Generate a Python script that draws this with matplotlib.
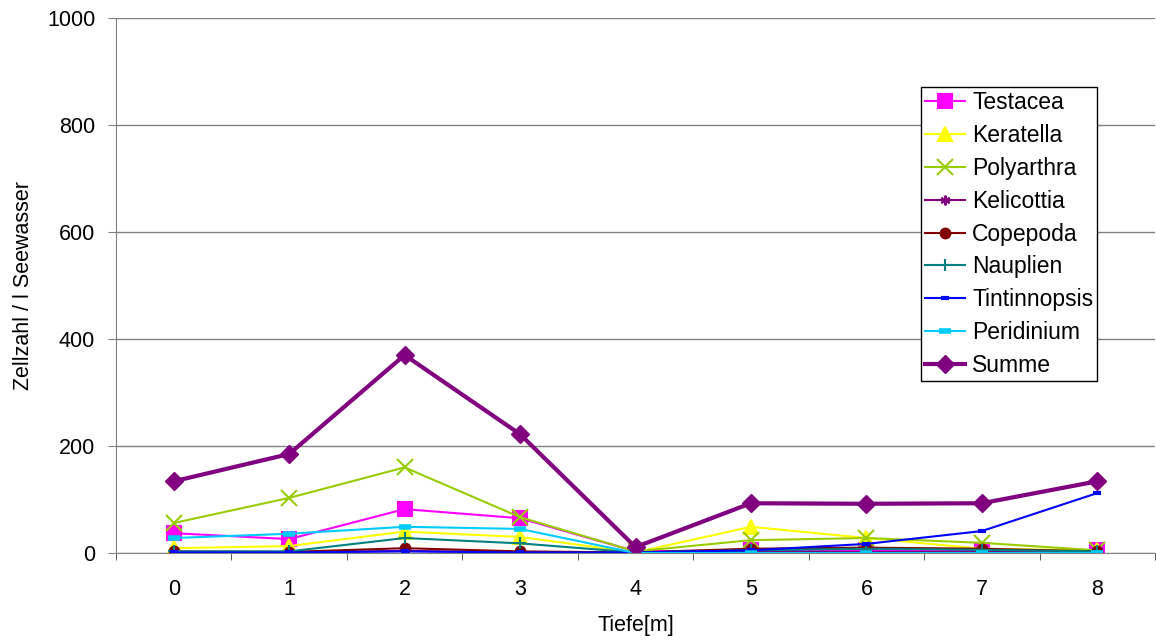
import matplotlib.pyplot as plt
from matplotlib.ticker import FixedLocator

plt.rcParams['font.family'] = ['Liberation Sans', 'DejaVu Sans']

tiefe = [0, 1, 2, 3, 4, 5, 6, 7, 8]

testacea = [37, 26, 82, 65, 3, 5, 5, 5, 5]
keratella = [9, 13, 40, 30, 1, 49, 28, 8, 5]
polyarthra = [56, 103, 160, 67, 3, 24, 28, 19, 5]
kelicottia = [1, 1, 4, 1, 1, 2, 2, 2, 1]
copepoda = [3, 2, 9, 3, 1, 8, 10, 8, 3]
nauplien = [3, 3, 28, 18, 1, 5, 8, 6, 3]
tintinnopsis = [1, 1, 3, 1, 1, 5, 17, 41, 112]
peridinium = [28, 36, 49, 45, 0, 0, 0, 0, 0]
summe = [134, 185, 370, 222, 11, 93, 92, 93, 134]

fs = 15.5

fig = plt.figure(figsize=(11.56, 6.44), dpi=100)
ax = fig.add_axes([116/1156, 91/644, 1039/1156, 535/644])

asterisk = (6, 2, 0)
reihen = [
    ('Testacea', testacea, '#FF00FF', 's', 10.5),
    ('Keratella', keratella, '#FFFF00', '^', 10),
    ('Polyarthra', polyarthra, '#99CC00', 'x', 11),
    ('Kelicottia', kelicottia, '#800080', asterisk, 7),
    ('Copepoda', copepoda, '#800000', 'o', 7),
    ('Nauplien', nauplien, '#008080', '+', 8),
    ('Tintinnopsis', tintinnopsis, '#0000FF', '_', 6),
    ('Peridinium', peridinium, '#00CCFF', '_', 9),
]

for name, werte, farbe, m, ms in reihen:
    mew = 1.5
    if m == '_':
        mew = 4 if name == 'Peridinium' else 3
    ax.plot(tiefe, werte, color=farbe, marker=m, markersize=ms, lw=1.5,
            markeredgewidth=mew, markeredgecolor=farbe, markerfacecolor=farbe,
            label=name)

ax.plot(tiefe, summe, color='#800080', marker='D', markersize=9, lw=3,
        label='Summe')

ax.set_xlim(-0.5, 8.5)
ax.set_ylim(0, 1000)
ax.set_yticks([0, 200, 400, 600, 800, 1000])
ax.set_xticks(tiefe)
ax.xaxis.set_minor_locator(FixedLocator([i + 0.5 for i in range(-1, 9)]))
ax.tick_params(axis='x', which='major', length=0, pad=19, labelsize=fs)
ax.tick_params(axis='x', which='minor', length=5, color='#404040', direction='out')
ax.tick_params(axis='y', length=6, color='#808080', labelsize=fs, pad=9)

ax.grid(axis='y', color='#808080', lw=1)
ax.set_axisbelow(True)
for s in ['top', 'right']:
    ax.spines[s].set_visible(False)
ax.spines['left'].set_color('#808080')
ax.spines['bottom'].set_color('#808080')

ax.set_xlabel('Tiefe[m]', fontsize=fs)
ax.set_ylabel('Zellzahl / l Seewasser', fontsize=fs)
ax.xaxis.set_label_coords(0.5, -0.116)
ax.yaxis.set_label_coords(-0.079, 0.5)

leg = ax.legend(loc='upper left', bbox_to_anchor=(921/1156, 1 - 87/644),
                bbox_transform=fig.transFigure, fontsize=16.5, frameon=True,
                fancybox=False, edgecolor='black', framealpha=1,
                labelspacing=0.43, handlelength=1.75, handletextpad=0.3,
                borderpad=0.18, borderaxespad=0)
leg.get_frame().set_linewidth(1)

fig.savefig('out.png', dpi=100)
